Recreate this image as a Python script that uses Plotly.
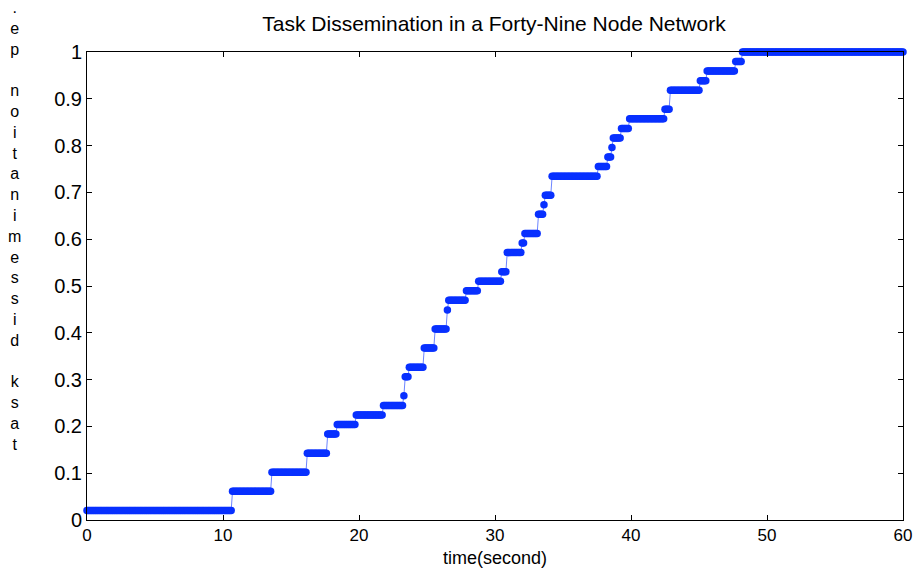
import numpy as np
import plotly.graph_objects as go

# Step start times (s) and number of nodes reached (out of 49)
step_start_times = [0.0, 10.7, 13.6, 16.2, 17.7, 18.4, 19.8, 21.8, 23.3, 23.4,
                    23.7, 24.8, 25.6, 26.5, 26.6, 27.9, 28.8, 30.5, 30.9, 32.0,
                    32.2, 33.2, 33.6, 33.7, 34.2, 37.6, 38.3, 38.6, 38.7, 39.3,
                    39.9, 42.5, 42.9, 45.1, 45.6, 47.7, 48.2]
nodes_reached = [1, 3, 5, 7, 9, 10, 11, 12, 13, 15,
                 16, 18, 20, 22, 23, 24, 25, 26, 28, 29,
                 30, 32, 33, 34, 36, 37, 38, 39, 40, 41,
                 42, 43, 45, 46, 47, 48, 49]
total_nodes = 49
sample_step = 0.1
t_end = 60.0

x_ticks = [0, 10, 20, 30, 40, 50, 60]
y_ticks = [0, 0.1, 0.2, 0.3, 0.4, 0.5, 0.6, 0.7, 0.8, 0.9, 1]
y_tick_labels = ["0", "0.1", "0.2", "0.3", "0.4", "0.5", "0.6", "0.7", "0.8", "0.9", "1"]

# sample the recorded step function
times = np.round(np.arange(0, t_end + 1e-9, sample_step), 1)
idx = np.searchsorted(np.array(step_start_times), times + 1e-9, side="right") - 1
fraction = np.array(nodes_reached)[idx] / total_nodes

blue = "rgb(8,48,255)"
fig = go.Figure()
fig.add_trace(go.Scatter(
    x=times, y=fraction, mode="lines+markers",
    line=dict(color=blue, width=0.6),
    marker=dict(color=blue, size=7.5, line=dict(width=0)),
    cliponaxis=False, showlegend=False,
))

W, H = 917, 576
L, R, T, B = 87, 14, 52, 56
plot_w, plot_h = W - L - R, H - T - B

font_family = "Liberation Sans, Arial, Helvetica, sans-serif"
narrow_family = "Liberation Sans Narrow, Liberation Sans, Arial, sans-serif"
axis_common = dict(
    showline=True, linecolor="black", linewidth=1, mirror="ticks",
    ticks="inside", ticklen=5, tickcolor="black", showgrid=False, zeroline=False,
    automargin=False,
)
fig.update_xaxes(range=[0, 60], tickvals=x_ticks, **axis_common,
                 tickfont=dict(size=17, color="black", family=narrow_family),
                 title=dict(text="time(second)", font=dict(size=18, color="black", family=font_family),
                            standoff=6))
fig.update_yaxes(range=[0, 1], tickvals=y_ticks, ticktext=y_tick_labels, **axis_common,
                 tickfont=dict(size=20, color="black", family=font_family))

ylabel_chars = list("task dissemination pe.")[::-1]
ylabel_text = "<br>".join(c if c != " " else "\u00a0" for c in ylabel_chars)
fig.add_annotation(
    text=ylabel_text, xref="paper", yref="paper",
    x=(14 - L) / plot_w, y=(520 - 226) / plot_h, xanchor="center", yanchor="middle",
    showarrow=False, align="center",
    font=dict(size=16, color="black", family=font_family),
)

fig.update_layout(
    width=W, height=H,
    margin=dict(l=L, r=R, t=T, b=B),
    paper_bgcolor="white", plot_bgcolor="white",
    title=dict(text="Task Dissemination in a Forty-Nine Node Network",
               x=494 / W, xanchor="center", y=1 - 24 / H, yanchor="middle",
               font=dict(size=21, color="black", family=font_family)),
)

fig.write_html("out.html", config={"displayModeBar": False},
               post_script="document.body.style.margin='0';document.body.style.overflow='hidden';")
